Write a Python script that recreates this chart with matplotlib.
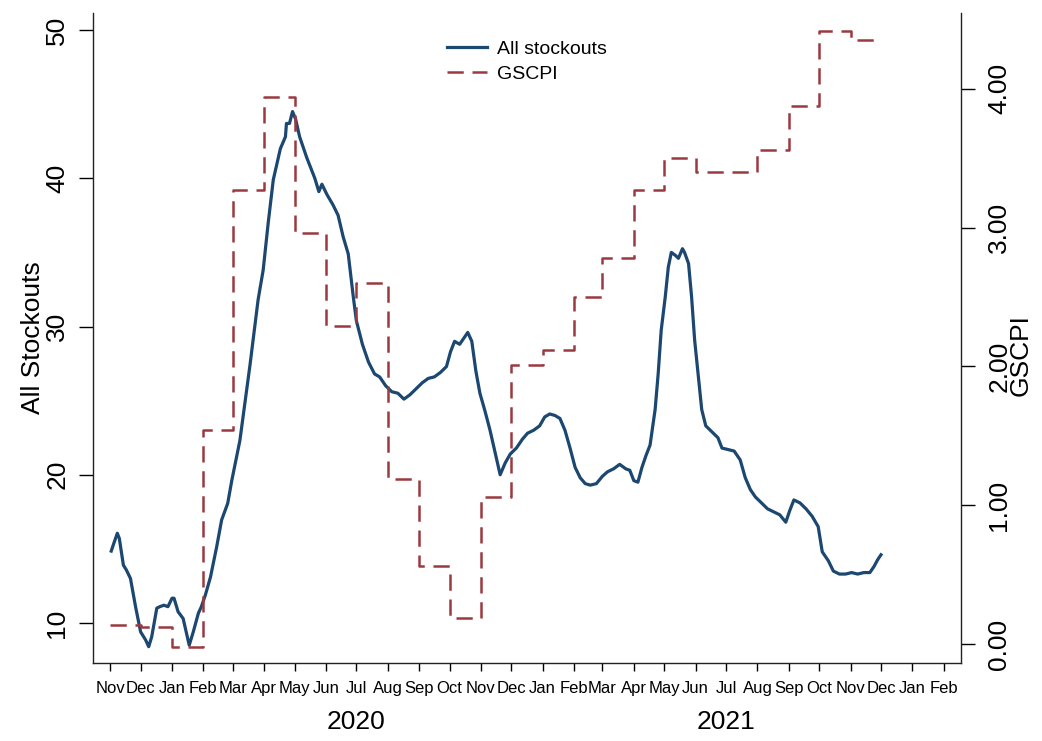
import matplotlib
matplotlib.use("Agg")
import matplotlib.pyplot as plt
import matplotlib.dates as mdates
import matplotlib.transforms as mtransforms
import numpy as np
import pandas as pd

plt.rcParams['font.family'] = ['Liberation Sans', 'DejaVu Sans']

# ---------------- data ----------------
start_date = pd.Timestamp("2019-11-01")

# All stockouts: observation day (days since 2019-11-01) and value
stock_day = [1, 3, 7, 9, 13, 16, 20, 25, 30, 35, 38, 41, 46, 49, 53, 57, 61, 63, 67, 72,
             78, 82, 87, 90, 94, 99, 105, 110, 116, 120, 128, 138, 146, 151, 156, 161, 168,
             173, 174, 177, 180, 183, 187, 194, 202, 206, 209, 214, 220, 225, 230, 235, 240,
             243, 249, 255, 261, 266, 272, 278, 284, 290, 296, 302, 308, 314, 320, 326, 332,
             336, 340, 345, 349, 353, 357, 361, 365, 370, 375, 380, 385, 390, 395, 401, 407,
             412, 418, 424, 429, 434, 439, 444, 449, 454, 459, 464, 469, 474, 480, 486, 491,
             497, 503, 509, 513, 517, 521, 525, 529, 533, 538, 541, 544, 548, 551, 554, 558,
             561, 565, 567, 571, 574, 577, 581, 584, 588, 594, 600, 604, 610, 616, 622, 627,
             632, 637, 643, 649, 655, 661, 667, 671, 675, 681, 687, 693, 699, 703, 709, 714,
             720, 726, 732, 738, 744, 750, 754, 758, 761]
stock_val = [14.85, 15.26, 16.05, 15.7, 13.9, 13.57, 13.0, 11.1, 9.4, 8.85, 8.4, 9.08, 11.0,
             11.1, 11.2, 11.1, 11.67, 11.67, 10.76, 10.3, 8.5, 9.4, 10.65, 11.1, 11.9, 13.1,
             15.1, 16.95, 18.07, 19.6, 22.3, 27.4, 31.8, 33.8, 37.0, 39.9, 42.0, 42.8, 43.7,
             43.7, 44.5, 44.0, 42.8, 41.4, 40.0, 39.1, 39.6, 38.9, 38.2, 37.5, 36.05, 34.9,
             32.0, 30.4, 28.8, 27.6, 26.8, 26.6, 26.0, 25.6, 25.5, 25.1, 25.4, 25.8, 26.2,
             26.5, 26.6, 26.9, 27.3, 28.3, 29.0, 28.8, 29.2, 29.6, 29.0, 27.0, 25.5, 24.3,
             23.0, 21.5, 20.0, 20.8, 21.4, 21.8, 22.4, 22.8, 23.0, 23.3, 23.9, 24.1, 24.0,
             23.8, 23.0, 21.8, 20.5, 19.8, 19.4, 19.3, 19.4, 19.9, 20.2, 20.4, 20.7, 20.4,
             20.3, 19.6, 19.5, 20.5, 21.3, 22.0, 24.4, 26.8, 29.75, 32.0, 34.0, 35.0, 34.8,
             34.6, 35.25, 35.0, 34.25, 32.0, 29.1, 26.4, 24.4, 23.3, 22.9, 22.5, 21.8, 21.7,
             21.6, 21.0, 19.8, 19.0, 18.5, 18.1, 17.7, 17.5, 17.3, 16.8, 17.6, 18.3, 18.1,
             17.7, 17.2, 16.5, 14.8, 14.2, 13.5, 13.3, 13.3, 13.4, 13.3, 13.4, 13.4, 13.8,
             14.3, 14.6]

# GSCPI monthly values, Nov 2019 .. Nov 2021
gscpi_month = pd.date_range("2019-11-01", "2021-11-01", freq="MS")
gscpi_val = [0.14, 0.12, -0.02, 1.54, 3.27, 3.94, 2.96, 2.29, 2.60, 1.19, 0.56, 0.19,
             1.06, 2.01, 2.12, 2.50, 2.78, 3.27, 3.50, 3.40, 3.40, 3.56, 3.88, 4.42, 4.35]

left_ticks = [10, 20, 30, 40, 50]
right_ticks = [0.0, 1.0, 2.0, 3.0, 4.0]
month_ticks = pd.date_range("2019-11-01", "2022-02-01", freq="MS")
year_labels = ["2020", "2021"]

# ---------------- plot ----------------
stock_dates = start_date + pd.to_timedelta(stock_day, unit="D")
g_x = list(gscpi_month) + [pd.Timestamp("2021-12-01")]
g_y = list(gscpi_val) + [gscpi_val[-1]]

W, H = 1042, 741
fig = plt.figure(figsize=(W / 100, H / 100), dpi=100)
ax = fig.add_axes([93 / W, 1 - 663 / H, (961 - 93) / W, (663 - 13) / H])
ax2 = ax.twinx()

blue = "#1b4771"
red = "#9a3a40"

l1, = ax.plot(stock_dates, stock_val, color=blue, lw=2.3, solid_joinstyle="round",
              label="All stockouts", zorder=3)
l2, = ax2.plot(g_x, g_y, color=red, lw=1.8, drawstyle="steps-post",
               linestyle=(0, (6.5, 3.5)), label="GSCPI", zorder=2)

ax.set_xlim(pd.Timestamp("2019-10-15"), pd.Timestamp("2022-02-18"))
ax.set_ylim(7.3, 51.15)
ax2.set_ylim(-0.137, 4.547)

for a in (ax, ax2):
    a.spines["top"].set_visible(False)
    for s in a.spines.values():
        s.set_linewidth(1.0)
        s.set_color("#222222")
ax.spines["right"].set_visible(False)
ax2.spines["left"].set_visible(False)
ax2.spines["bottom"].set_visible(False)

ax.set_yticks(left_ticks)
ax.set_yticklabels([str(t) for t in left_ticks])
ax.tick_params(axis="y", labelsize=19, length=10, width=1.0, pad=7, labelrotation=90)
for t in ax.get_yticklabels():
    t.set_va("center")

ax2.set_yticks(right_ticks)
ax2.set_yticklabels([f"{t:.2f}" for t in right_ticks])
ax2.tick_params(axis="y", labelsize=19, length=10, width=1.0, pad=9, labelrotation=90)
for t in ax2.get_yticklabels():
    t.set_va("center")

ax.set_xticks(month_ticks)
ax.set_xticklabels([d.strftime("%b") for d in month_ticks])
ax.tick_params(axis="x", labelsize=12, length=6, width=1.0, pad=7, direction="out")
jan_ticks = [d for d in month_ticks if d.month == 1]
ax.set_xticks(jan_ticks, minor=True)
ax.tick_params(axis="x", which="minor", length=21, width=2.0, direction="inout")

trans = mtransforms.blended_transform_factory(ax.transData, ax.transAxes)
for yl in year_labels:
    ax.text(pd.Timestamp(f"{yl}-07-01"), -0.091, yl, transform=trans, ha="center",
            va="center", fontsize=19)

fig.text(33 / W, 1 - 338 / H, "All Stockouts", rotation=90, ha="center", va="center",
         fontsize=19)
fig.text(1021 / W, 1 - 355 / H, "GSCPI", rotation=90, ha="center", va="center",
         fontsize=19)

leg = fig.legend(handles=[l1, l2], loc="upper left", bbox_to_anchor=(429 / W, 1 - 23 / H),
                 frameon=False, fontsize=14, handlelength=2.1, handletextpad=0.5,
                 labelspacing=0.35, borderpad=0.4)

fig.savefig("out.png", dpi=100, facecolor="white")
